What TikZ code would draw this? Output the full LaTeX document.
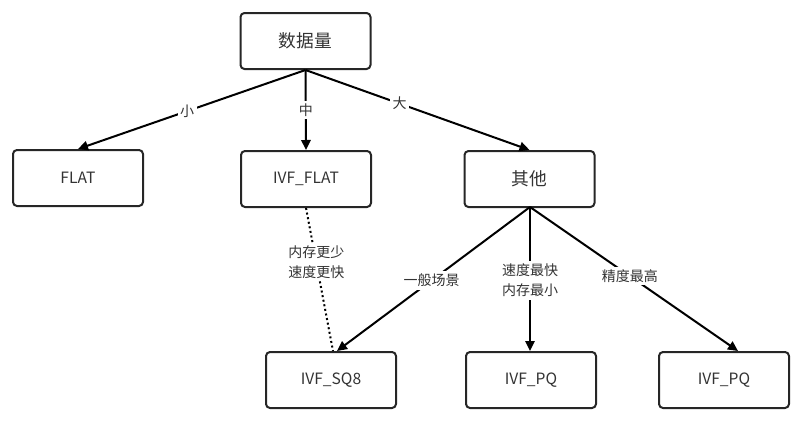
\documentclass[tikz,border=0pt]{standalone}
\usepackage{fontspec}
\setmainfont{Noto Sans CJK SC}
\usetikzlibrary{arrows.meta}
\begin{document}
\begin{tikzpicture}[x=0.75pt,y=-0.75pt,
  box/.style={draw=black!85,line width=1.5pt,rounded corners=3pt,minimum width=97.5pt,minimum height=42pt,inner sep=0pt,font=\fontsize{11.7pt}{13pt}\selectfont,text=black!80},
  conn/.style={line width=1.5pt,draw=black,-{Triangle[length=7.5pt,width=7pt]}},
  lab/.style={fill=white,inner sep=2pt,font=\fontsize{10.5pt}{15pt}\selectfont,text=black!80,align=center}]
\useasboundingbox (0,0) rectangle (803,421);
\node[box,font=\fontsize{13.3pt}{15pt}\selectfont] (root) at (305.5,41) {数据量};
\node[box] (flat) at (78,178) {FLAT};
\node[box] (ivfflat) at (306,179) {IVF\_FLAT};
\node[box,font=\fontsize{13.3pt}{15pt}\selectfont] (other) at (529.5,179) {其他};
\node[box] (sq8) at (331,380) {IVF\_SQ8};
\node[box] (pq1) at (531,380) {IVF\_PQ};
\node[box] (pq2) at (724,380) {IVF\_PQ};
\coordinate (rootb) at (305.5,70);
\coordinate (otherb) at (530,207);
\draw[conn] (rootb) -- node[lab,pos=0.52]{小} (flat.north);
\draw[conn] (rootb) -- node[lab,pos=0.5]{中} (ivfflat.north);
\draw[conn] (rootb) -- node[lab,pos=0.42]{大} (other.north);
\draw[line width=1.5pt,dotted] (ivfflat.south) -- node[lab,pos=0.38]{内存更少\\速度更快} ([xshift=1.5pt]sq8.north);
\draw[conn] (otherb) -- node[lab,pos=0.51]{一般场景} ([xshift=4.5pt]sq8.north);
\draw[conn] (otherb) -- node[lab,pos=0.51]{速度最快\\内存最小} (otherb |- pq1.north);
\draw[conn] (otherb) -- node[lab,pos=0.48]{精度最高} ([xshift=10.5pt]pq2.north);
\end{tikzpicture}
\end{document}
